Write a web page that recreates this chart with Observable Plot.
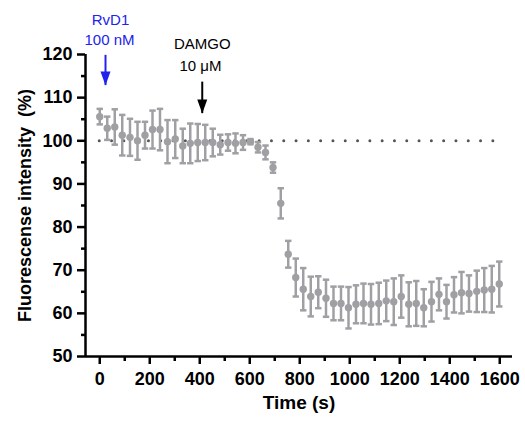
<!DOCTYPE html>
<html>
<head>
<meta charset="utf-8">
<script src="https://cdn.jsdelivr.net/npm/d3@7"></script>
<script src="https://cdn.jsdelivr.net/npm/@observablehq/plot@0.6"></script>
<style>
  html, body { margin: 0; padding: 0; background: #fff; }
</style>
</head>
<body>
<div id="chart"></div>
<script>
// ---- data ----
const times = [0,30,60,90,121,151,181,211,241,271,302,332,362,392,422,452,482,513,543,573,603,633,663,693,724,754,784,814,844,874,905,935,965,995,1025,1055,1085,1116,1146,1176,1206,1236,1266,1296,1327,1357,1387,1417,1447,1477,1508,1538,1568,1598];
const means = [105.6,102.9,103.2,101.3,100.8,100.0,101.3,102.6,102.6,99.8,100.4,98.8,99.4,99.6,99.6,99.6,99.1,99.6,99.4,99.6,99.8,98.5,97.3,93.8,85.5,73.7,68.3,65.6,63.9,64.9,63.5,62.3,62.3,61.3,62.1,62.3,62.1,62.3,62.9,62.7,63.9,62.1,62.3,61.3,62.7,64.4,62.7,64.3,64.8,64.6,65.1,65.4,65.6,66.8];
const sems = [1.8,2.7,4.1,4.7,4.3,4.4,3.1,4.4,4.8,5.0,4.4,4.0,4.6,4.3,4.1,3.2,2.3,1.9,2.3,1.7,0.6,1.2,1.6,1.2,3.5,3.1,4.4,4.9,4.6,3.7,4.3,3.9,3.9,4.8,4.4,4.6,4.7,4.8,4.7,5.4,4.9,5.1,5.2,4.3,4.6,3.7,3.9,4.1,4.8,4.2,4.8,5.1,5.4,5.2];
const baseline = [100];
const yTicks = [50,60,70,80,90,100,110,120];
const yMinorTicks = [55,65,75,85,95,105,115];
const xTicks = [0,200,400,600,800,1000,1200,1400,1600];
const xMinorTicks = [100,300,500,700,900,1100,1300,1500];
const annotLabels = ["RvD1","100 nM","DAMGO","10 μM"];
const annotT = [43, 39, 410, 403];
const annotY = [127.9, 123.4, 122.3, 117.4];
const annotColor = ["#2222ee","#2222ee","#000000","#000000"];
const arrowT = [23, 410];
const arrowTop = [119.8, 113.6];
const arrowTip = [112.8, 106.3];
const arrowColor = ["#2222ee", "#000000"];

const xDomain = [-57, 1651];
const yDomain = [50, 120];

const data = times.map((t, i) => ({t, m: means[i], e: sems[i]}));
const annots = annotLabels.map((label, i) => ({label, t: annotT[i], y: annotY[i], c: annotColor[i]}));
const arrows = arrowT.map((t, i) => ({t, top: arrowTop[i], tip: arrowTip[i], c: arrowColor[i]}));

const gray = "#a0a0a4";
const font = "'Liberation Sans', Arial, Helvetica, sans-serif";

const capSymbol = {draw(ctx, size) { const r = Math.sqrt(size / Math.PI); ctx.moveTo(-r, 0); ctx.lineTo(r, 0); }};
const headSymbol = {draw(ctx, size) { const r = Math.sqrt(size / Math.PI); ctx.moveTo(-r, -2.8 * r); ctx.lineTo(r, -2.8 * r); ctx.lineTo(0, 0); ctx.closePath(); }};

const chart = Plot.plot({
  width: 525,
  height: 422,
  marginLeft: 85,
  marginRight: 13,
  marginTop: 54,
  marginBottom: 66,
  style: {fontFamily: font, background: "#fff", overflow: "visible"},
  x: {domain: xDomain, axis: null},
  y: {domain: yDomain, axis: null},
  marks: [
    // dotted reference line at 100 %
    Plot.ruleY(baseline, {x1: 0, x2: 1610, stroke: "#555", strokeWidth: 3, strokeDasharray: "0,12.3", strokeLinecap: "round"}),
    // error bars
    Plot.ruleX(data, {x: "t", y1: d => d.m - d.e, y2: d => d.m + d.e, stroke: gray, strokeWidth: 2.5}),
    Plot.dot(data, {x: "t", y: d => d.m + d.e, symbol: capSymbol, r: 3.2, stroke: gray, strokeWidth: 2.5, fill: "none"}),
    Plot.dot(data, {x: "t", y: d => d.m - d.e, symbol: capSymbol, r: 3.2, stroke: gray, strokeWidth: 2.5, fill: "none"}),
    // means
    Plot.dot(data, {x: "t", y: "m", r: 3.7, fill: gray, stroke: "none"}),
    // axes lines
    Plot.ruleX([xDomain[0]], {stroke: "#000", strokeWidth: 2.5}),
    Plot.ruleY([yDomain[0]], {stroke: "#000", strokeWidth: 2.5}),
    // y axis
    Plot.axisY({ticks: yTicks, tickSize: 8, tickPadding: 5, fontSize: 18, fontWeight: "bold", fill: "#000", stroke: "#000", strokeWidth: 2.5, label: null}),
    Plot.axisY(yMinorTicks, {tickSize: 4, tickFormat: () => "", stroke: "#000", strokeWidth: 2.5, label: null}),
    // x axis
    Plot.axisX({ticks: xTicks, tickSize: 8, tickPadding: 8, tickFormat: d3.format("d"), fontSize: 18, fontWeight: "bold", fill: "#000", stroke: "#000", strokeWidth: 2.5, label: null}),
    Plot.axisX(xMinorTicks, {tickSize: 5, tickFormat: () => "", stroke: "#000", strokeWidth: 2.5, label: null}),
    // axis titles
    Plot.text(["Time (s)"], {frameAnchor: "bottom", dy: 52, fontSize: 19, fontWeight: "bold", fill: "#000"}),
    Plot.text(["Fluorescense intensity\u00a0\u00a0(%)"], {frameAnchor: "left", textAnchor: "middle", dx: -60, rotate: -90, fontSize: 18, fontWeight: "bold", fill: "#000"}),
    // annotations
    Plot.ruleX(arrows, {x: "t", y1: "top", y2: "tip", stroke: "c", strokeWidth: 2}),
    Plot.dot(arrows, {x: "t", y: "tip", symbol: headSymbol, r: 5, fill: "c", stroke: "none"}),
    Plot.text(annots, {x: "t", y: "y", text: "label", fill: "c", fontSize: 15})
  ]
});
document.getElementById("chart").appendChild(chart);
</script>
</body>
</html>
